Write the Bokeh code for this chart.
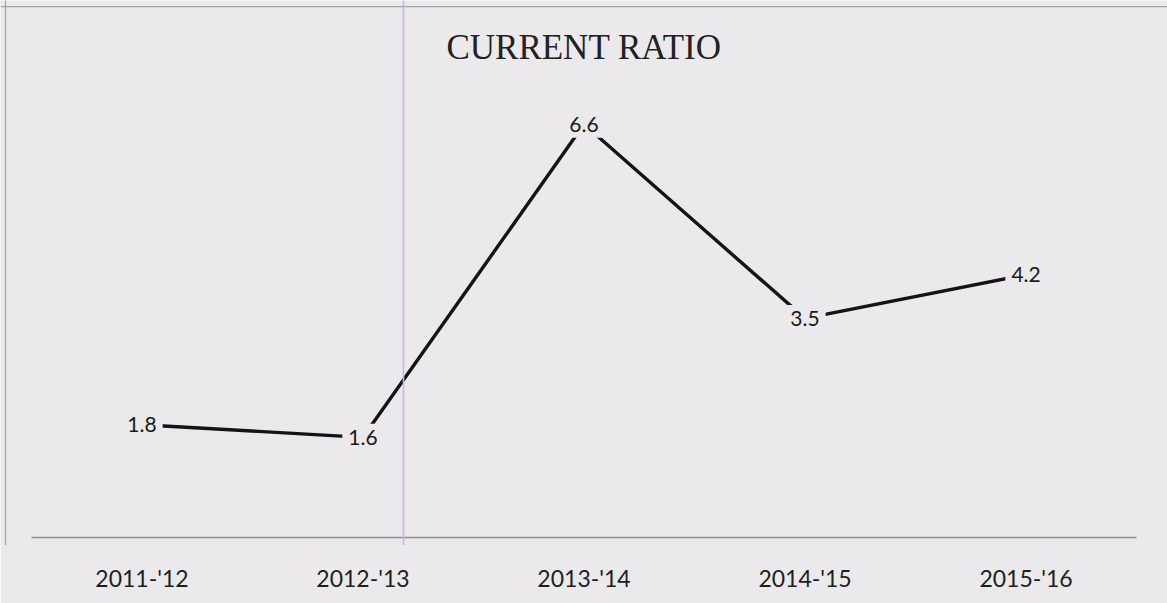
from bokeh.plotting import figure
from bokeh.models import FactorRange, Range1d, Span, Label, ColumnDataSource, BoxAnnotation
from bokeh.core.properties import value
from bokeh.embed import file_html
from bokeh.resources import INLINE

# Current ratio by financial year
years = ["2011-'12", "2012-'13", "2013-'14", "2014-'15", "2015-'16"]
ratios = [1.8, 1.6, 6.6, 3.5, 4.2]
ratio_labels = [f"{r:.1f}" for r in ratios]

paper = "#ebe9ec"
ink = "#141414"

source = ColumnDataSource(data=dict(year=years, ratio=ratios, label=ratio_labels))

p = figure(
    width=1167, height=603,
    x_range=FactorRange(*years, range_padding=0.14, range_padding_units="absolute"),
    y_range=Range1d(-0.128, 8.578),
    output_backend="svg", toolbar_location=None,
    y_axis_location=None,
    min_border_left=0, min_border_right=0, min_border_top=0, min_border_bottom=58,
)
p.background_fill_color = paper
p.border_fill_color = paper
p.outline_line_color = None
p.xgrid.visible = False
p.ygrid.visible = False

ax = p.xaxis[0]
ax.axis_line_alpha = 0
ax.major_tick_line_color = None
ax.minor_tick_line_color = None
ax.major_label_text_font = "Lato"
ax.major_label_text_font_size = "23px"
ax.major_label_text_color = "#1e1e1e"
ax.major_label_standoff = 12

# page frame and ruled margin line, running the full page height
p.add_layout(BoxAnnotation(left=4.4, right=5.6, top=0, bottom=603,
                           left_units="screen", right_units="screen",
                           top_units="screen", bottom_units="screen",
                           fill_color="#a3a3a3", fill_alpha=1.0, line_alpha=0))
p.add_layout(Span(location=8.48, dimension="width",
                  line_color="#a3a3a3", line_width=1.2))
p.add_layout(BoxAnnotation(left=402.2, right=403.8, top=0, bottom=603,
                           left_units="screen", right_units="screen",
                           top_units="screen", bottom_units="screen",
                           fill_color="#c8b4ee", fill_alpha=1.0, line_alpha=0))

# category axis baseline across all factors
p.segment(x0=[0], x1=[len(years)], y0=[0], y1=[0], line_color="#8e8e8e", line_width=1.6)

# the ratio series
p.line(x="year", y="ratio", source=source, line_color=ink, line_width=3.4, line_join="round")

# value labels sitting on the points, masking the line beneath them
p.text(x="year", y="ratio", text="label", source=source,
       text_font=value("Lato"), text_font_size="21px", text_color="#1a1a1a",
       text_align="center", text_baseline="middle",
       background_fill_color=paper, padding=6)

p.add_layout(Label(x=2.5, y=7.83, text="CURRENT RATIO",
                   text_font="Liberation Serif", text_font_size="35px",
                   text_color="#222222", text_align="center", text_baseline="middle"))

open("out.html", "w").write(file_html(p, INLINE))
